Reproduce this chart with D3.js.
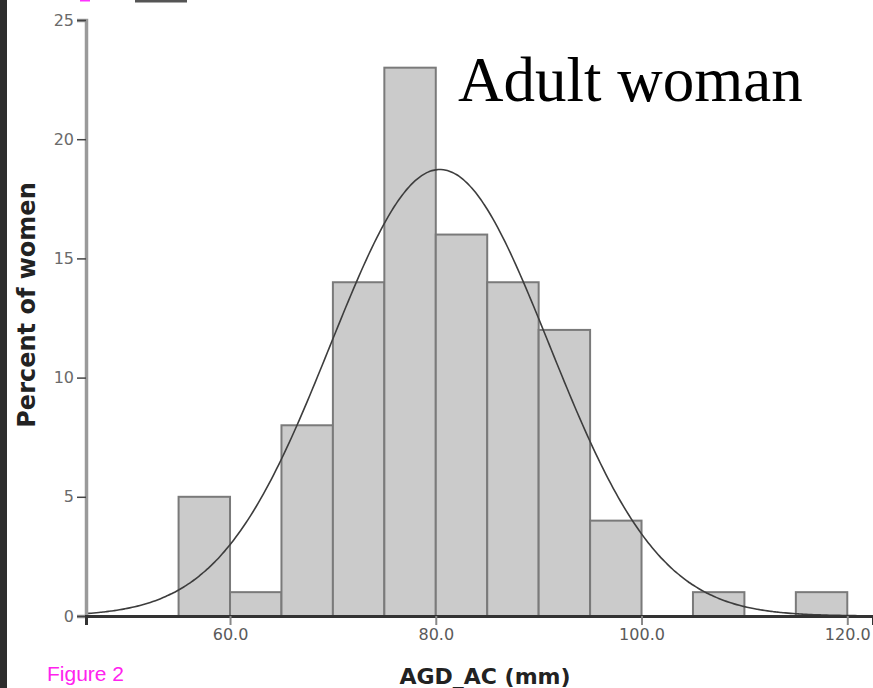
<!DOCTYPE html>
<html>
<head>
<meta charset="utf-8">
<script src="https://cdn.jsdelivr.net/npm/d3@7"></script>
<style>
  html, body { margin: 0; padding: 0; background: #fff; }
  svg { display: block; }
</style>
</head>
<body>
<svg id="chart" width="873" height="688"></svg>
<script>
// ---- data ----
const binStarts = [55, 60, 65, 70, 75, 80, 85, 90, 95, 100, 105, 110, 115];
const binWidth = 5;
const percents = [5, 1, 8, 14, 23, 16, 14, 12, 4, 0, 1, 0, 1];
const xTicks = [60, 80, 100, 120];
const yTicks = [0, 5, 10, 15, 20, 25];
const fitMean = 80.4;
const fitSd = 10.65;
const title = "Adult woman";
const xLabel = "AGD_AC (mm)";
const yLabel = "Percent of women";
const figLabel = "Figure 2";

const svg = d3.select("#chart");
const W = 873, H = 688;

const x = d3.scaleLinear().domain([46, 122.5]).range([86, 873]);
const y = d3.scaleLinear().domain([0, 25]).range([616, 20]);

// left dark strip
svg.append("rect").attr("x", 0).attr("y", 0).attr("width", 7).attr("height", H).attr("fill", "#2d2d2d");
// top remnants
svg.append("rect").attr("x", 135).attr("y", 0).attr("width", 52).attr("height", 2.5).attr("fill", "#555");
svg.append("rect").attr("x", 80).attr("y", 0).attr("width", 10).attr("height", 1.5).attr("fill", "#ff33ff");

// bars
svg.append("g").selectAll("rect")
  .data(binStarts.map((s, i) => ({ s, v: percents[i] })).filter(d => d.v > 0))
  .join("rect")
  .attr("x", d => x(d.s))
  .attr("y", d => y(d.v))
  .attr("width", d => x(d.s + binWidth) - x(d.s))
  .attr("height", d => y(0) - y(d.v))
  .attr("fill", "#cbcbcb")
  .attr("stroke", "#7a7a7a")
  .attr("stroke-width", 2);

// fitted normal curve
const scale = 100 * binWidth / (fitSd * Math.sqrt(2 * Math.PI));
const curvePts = d3.range(46, 122.6, 0.25).map(v => [v, scale * Math.exp(-0.5 * ((v - fitMean) / fitSd) ** 2)]);
svg.append("path")
  .datum(curvePts)
  .attr("fill", "none")
  .attr("stroke", "#3d3d3d")
  .attr("stroke-width", 1.6)
  .attr("d", d3.line().x(d => x(d[0])).y(d => y(d[1])).curve(d3.curveBasis));

// y axis
const yAxis = svg.append("g").attr("transform", `translate(${x(46)},0)`)
  .call(d3.axisLeft(y).tickValues(yTicks).tickSize(9).tickPadding(3).tickFormat(d3.format("d")));
yAxis.select(".domain").attr("stroke", "#9a9a9a").attr("stroke-width", 3.5);
yAxis.selectAll(".tick line").attr("stroke", "#444").attr("stroke-width", 1.5);
yAxis.selectAll(".tick text").attr("fill", "#6a6a6a").attr("font-family", "DejaVu Sans, sans-serif").attr("font-size", 16);

// x axis
const xAxis = svg.append("g").attr("transform", `translate(0,${y(0)})`)
  .call(d3.axisBottom(x).tickValues(xTicks).tickSize(9).tickPadding(4).tickFormat(d3.format(".1f")));
xAxis.select(".domain").attr("stroke", "#333").attr("stroke-width", 3);
xAxis.selectAll(".tick line").attr("stroke", "#888").attr("stroke-width", 2);
xAxis.selectAll(".tick text").attr("fill", "#5a5a5a").attr("font-family", "DejaVu Sans, sans-serif").attr("font-size", 16);

// labels
svg.append("text").attr("x", 485).attr("y", 684).attr("text-anchor", "middle")
  .attr("font-family", "DejaVu Sans, sans-serif").attr("font-weight", "bold").attr("font-size", 22).attr("fill", "#222")
  .text(xLabel);
svg.append("text").attr("transform", "translate(35,305) rotate(-90)").attr("text-anchor", "middle")
  .attr("font-family", "DejaVu Sans, sans-serif").attr("font-weight", "bold").attr("font-size", 24).attr("fill", "#222")
  .text(yLabel);
svg.append("text").attr("x", 47).attr("y", 681)
  .attr("font-family", "Liberation Sans, sans-serif").attr("font-size", 21).attr("fill", "#ff22ee")
  .text(figLabel);
svg.append("text").attr("x", 458).attr("y", 101)
  .attr("font-family", "Liberation Serif, serif").attr("font-size", 63).attr("fill", "#000")
  .text(title);
</script>
</body>
</html>
